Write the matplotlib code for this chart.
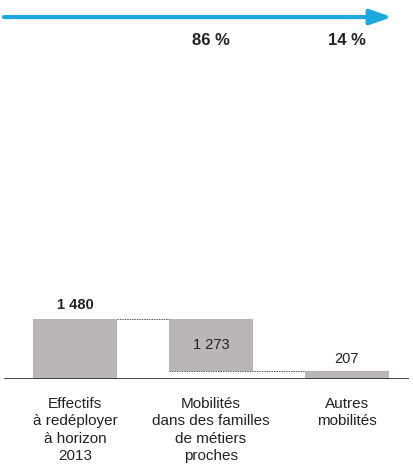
import matplotlib
matplotlib.use('Agg')
import matplotlib.pyplot as plt
import matplotlib.transforms as mtransforms

plt.rcParams['font.family'] = ['Liberation Sans', 'DejaVu Sans']

# data
categories = ['Effectifs\nà redéployer\nà horizon\n2013',
              'Mobilités\ndans des familles\nde métiers\nproches',
              'Autres\nmobilités']
values = [1480, 1273, 207]
value_labels = ['1 480', '1 273', '207']
shares = ['86 %', '14 %']

# waterfall: total, then pieces stacked down to zero
bottoms = [0, values[2], 0]

fig = plt.figure(figsize=(4.14, 4.69), dpi=100)
ax = fig.add_axes([4 / 414, 90 / 469, 405 / 414, 379 / 469])

x = [0, 1, 2]
width = 0.62
ax.bar(x, values, width=width, bottom=bottoms, color='#bab6b6', edgecolor='none', zorder=2)

# connectors
ax.plot([x[0] + width / 2, x[1] - width / 2], [values[0], values[0]],
        linestyle=(0, (1.5, 1)), color='#555555', linewidth=0.7, zorder=3)
ax.plot([x[1] - width / 2, x[2] - width / 2], [bottoms[1], bottoms[1]],
        linestyle=(0, (1.5, 1)), color='#555555', linewidth=0.7, zorder=3)

ax.set_xlim(-0.522, 2.456)
ax.set_ylim(0, 379 / 0.0405)
ax.axhline(0, color='#333333', linewidth=1.3, zorder=4)

# value labels
ax.annotate(value_labels[0], (x[0], values[0]), xytext=(0, 5), textcoords='offset points',
            ha='center', va='bottom', fontsize=10.5, fontweight='bold', color='#222222')
ax.text(x[1], bottoms[1] + values[1] / 2, value_labels[1], ha='center', va='center',
        fontsize=10.5, color='#222222')
ax.annotate(value_labels[2], (x[2], values[2]), xytext=(0, 3), textcoords='offset points',
            ha='center', va='bottom', fontsize=10.5, color='#222222')

# category labels
for xi, lab in zip(x, categories):
    ax.annotate(lab, (xi, 0), xytext=(0, -13), textcoords='offset points',
                ha='center', va='top', fontsize=11, color='#222222',
                linespacing=1.3, annotation_clip=False)

# arrow and shares
trans = mtransforms.blended_transform_factory(ax.transData, ax.transAxes)
ax.annotate('', xy=(0.958, 0.955), xytext=(0.0, 0.955), xycoords='axes fraction',
            arrowprops=dict(arrowstyle='-|>,head_length=1.3,head_width=0.45',
                            color='#1ba7df', linewidth=3, shrinkA=0, shrinkB=0))
for xi, s in zip(x[1:], shares):
    ax.text(xi, 0.893, s, transform=trans, ha='center', va='center',
            fontsize=12, fontweight='bold', color='#222222')

ax.axis('off')
fig.savefig('out.png', dpi=100)
